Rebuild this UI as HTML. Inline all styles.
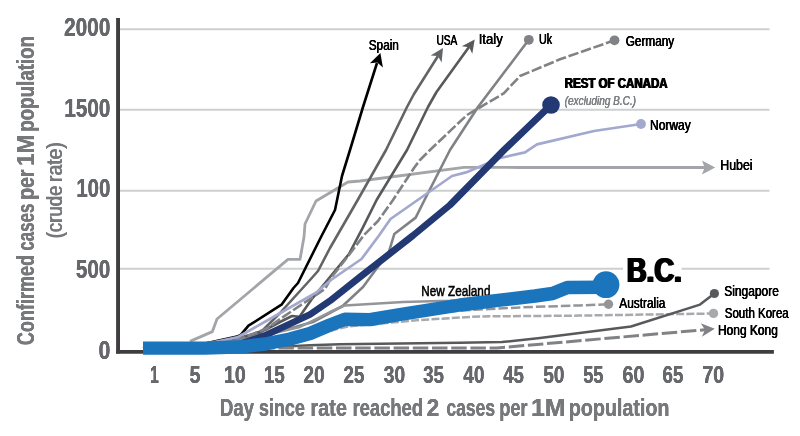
<!DOCTYPE html>
<html><head><meta charset="utf-8"><title>Confirmed cases per 1M population</title>
<style>
html,body{margin:0;padding:0;background:#fff;}
body{width:800px;height:436px;overflow:hidden;position:relative;font-family:"Liberation Sans",sans-serif;}
svg{display:block;position:absolute;left:0;top:0;font-family:"Liberation Sans",sans-serif;}
.t{position:absolute;left:0;top:0;line-height:1;white-space:nowrap;transform-origin:0 0;font-kerning:none;}
</style></head><body>
<svg width="800" height="436" viewBox="0 0 800 436">
<rect width="800" height="436" fill="#fff"/>
<line x1="119" y1="29.2" x2="769.5" y2="29.2" stroke="#ced0cf" stroke-width="2.1"/>
<line x1="119" y1="109.8" x2="769.5" y2="109.8" stroke="#ced0cf" stroke-width="2.1"/>
<line x1="119" y1="190.8" x2="769.5" y2="190.8" stroke="#ced0cf" stroke-width="2.1"/>
<line x1="119" y1="268.8" x2="769.5" y2="268.8" stroke="#ced0cf" stroke-width="2.1"/>
<path d="M190.0,341.4 L212.4,331.6 L217.0,319.0 L288.0,259.4 L300.0,259.4 L304.0,237.0 L305.0,224.0 L316.0,201.0 L348.0,182.0 L360.0,181.0 L464.0,167.3 L520.0,167.5 L706.0,167.5" fill="none" stroke="#a3a5a8" stroke-width="2.8" stroke-linejoin="round" />
<path d="M715.2,167.5 L702.0,174.6 L704.6,167.5 L702.0,160.4Z" fill="#a3a5a8"/>
<path d="M143.0,348.0 L205.0,343.6 L237.0,336.6 L241.0,334.7 L248.5,325.7 L281.5,304.7 L293.5,288.0 L298.0,283.0 L321.0,237.0 L335.0,210.0 L342.0,176.0 L350.0,150.0 L363.0,107.0 L377.0,63.0" fill="none" stroke="#000" stroke-width="2.6" stroke-linejoin="round" />
<path d="M380.4,52.9 L382.9,67.4 L377.3,62.4 L369.9,63.2Z" fill="#000"/>
<path d="M143.0,348.0 L205.0,344.0 L240.0,337.5 L260.5,332.5 L280.0,313.0 L310.0,280.0 L318.0,271.0 L330.0,248.0 L357.7,200.0 L386.0,150.0 L407.0,107.0 L414.0,94.0 L438.0,56.0" fill="none" stroke="#636466" stroke-width="2.6" stroke-linejoin="round" />
<path d="M443.0,48.0 L441.6,62.5 L437.9,56.0 L430.6,55.5Z" fill="#636466"/>
<path d="M143.0,348.0 L205.0,344.3 L240.0,338.5 L265.0,330.0 L280.0,322.0 L292.0,316.0 L299.5,316.7 L311.5,299.5 L330.0,277.0 L349.0,254.0 L362.8,227.7 L376.6,200.0 L407.0,150.0 L428.0,107.0 L436.5,92.0 L469.0,47.0" fill="none" stroke="#58595b" stroke-width="2.6" stroke-linejoin="round" />
<path d="M474.7,39.5 L472.3,53.8 L469.1,47.2 L461.8,46.2Z" fill="#58595b"/>
<path d="M143.0,348.0 L205.0,344.6 L240.0,339.0 L268.0,328.0 L281.5,318.0 L325.0,289.0 L331.0,278.0 L349.0,255.0 L364.0,235.0 L378.0,221.0 L393.0,200.0 L414.0,168.0 L420.0,160.0 L430.0,150.0 L467.0,115.0 L504.0,93.2 L520.0,76.0 L560.0,59.3 L614.5,40.3" fill="none" stroke="#808285" stroke-width="2.6" stroke-linejoin="round" stroke-dasharray="10.5 2.7" />
<circle cx="614.5" cy="40.3" r="4.9" fill="#808285"/>
<path d="M143.0,348.0 L205.0,345.0 L240.0,340.0 L284.5,330.0 L313.0,322.0 L342.6,306.0 L363.0,287.0 L389.0,251.7 L394.3,234.0 L415.7,217.6 L424.5,200.0 L450.0,150.0 L478.0,107.0 L528.8,39.8" fill="none" stroke="#808285" stroke-width="2.6" stroke-linejoin="round" />
<circle cx="528.8" cy="39.8" r="4.9" fill="#808285"/>
<path d="M143.0,348.0 L205.0,344.0 L238.0,337.0 L246.0,332.5 L283.0,311.5 L316.0,292.7 L331.0,280.0 L361.5,259.0 L379.0,235.5 L390.5,219.0 L452.0,176.0 L466.0,172.4 L500.0,158.0 L525.0,152.4 L537.0,144.4 L594.0,131.0 L641.0,124.0" fill="none" stroke="#a3a8cf" stroke-width="2.7" stroke-linejoin="round" />
<circle cx="641" cy="124" r="4.9" fill="#a3a8cf"/>
<path d="M143.0,348.0 L205.0,345.0 L240.0,341.0 L300.0,327.0 L330.0,312.0 L345.0,305.4 L403.0,302.0 L450.0,300.8 L490.0,298.0" fill="none" stroke="#939598" stroke-width="2.5" stroke-linejoin="round" />
<path d="M240.0,346.0 L300.0,337.0 L345.0,321.0 L370.0,321.0 L460.0,310.5 L490.0,309.0 L520.0,307.4 L580.0,305.4 L608.5,304.3" fill="none" stroke="#939598" stroke-width="2.5" stroke-linejoin="round" stroke-dasharray="9.5 3" />
<circle cx="608.5" cy="304.2" r="4.7" fill="#939598"/>
<path d="M240.0,347.0 L300.0,338.0 L348.0,326.4 L420.0,320.0 L480.0,316.4 L580.0,315.6 L713.5,313.5" fill="none" stroke="#a7a9ac" stroke-width="2.5" stroke-linejoin="round" stroke-dasharray="8 2.2" />
<circle cx="713.5" cy="313.4" r="4.7" fill="#a7a9ac"/>
<path d="M200.0,348.0 L290.0,346.3 L310.0,345.2 L340.0,344.2 L460.0,342.7 L502.0,342.1 L540.0,337.9 L631.0,326.5 L700.0,304.6 L714.4,293.5" fill="none" stroke="#58595b" stroke-width="2.5" stroke-linejoin="round" />
<circle cx="714.4" cy="293.5" r="4.6" fill="#58595b"/>
<path d="M240.0,348.0 L497.0,348.0 L705.0,329.7" fill="none" stroke="#808285" stroke-width="3" stroke-linejoin="round" stroke-dasharray="15.5 3.7" />
<path d="M714.8,328.8 L701.9,336.7 L705.0,329.7 L700.7,323.3Z" fill="#808285"/>
<line x1="118.05" y1="18" x2="118.05" y2="353.5" stroke="#403d41" stroke-width="3.9"/>
<line x1="116.1" y1="351.9" x2="773.9" y2="351.9" stroke="#403d41" stroke-width="3.7"/>
<path d="M240.0,344.0 L265.0,335.5 L310.0,314.5 L330.0,300.8 L360.0,277.0 L413.0,235.5 L450.0,205.0 L504.0,150.0 L551.0,105.0" fill="none" stroke="#223973" stroke-width="6.8" stroke-linejoin="round" />
<circle cx="551" cy="105" r="8.8" fill="#223973"/>
<text transform="translate(421.34,296) scale(0.7820,1)" font-size="15" fill="#000" stroke="#000" stroke-width="0.60" style="font-kerning:none">New Zealand</text>
<path d="M143.0,348.1 L205.0,348.1 L242.0,346.8 L265.0,344.0 L290.0,339.0 L310.0,333.5 L330.0,325.0 L345.0,319.3 L370.0,319.6 L400.0,314.5 L460.0,305.0 L500.0,300.2 L535.0,296.0 L552.5,293.5 L567.4,287.5 L606.0,287.2" fill="none" stroke="#1b75bc" stroke-width="13.4" stroke-linejoin="round" stroke-linecap="butt"/>
<circle cx="606" cy="284.7" r="13.4" fill="#1b75bc"/>
<rect x="623" y="262" width="58.6" height="14" fill="#fff"/>
</svg>
<div class="t" style="font-size:34.8px;font-weight:bold;color:#000;text-shadow:1.40px 0 0 #000,-1.40px 0 0 #000;transform:translate(626.97px,282px) scale(0.7861,1) translate(0,-29.10px)">B.C.</div>
<div class="t" style="font-size:15px;color:#000;text-shadow:0.34px 0 0 #000,-0.34px 0 0 #000;transform:translate(368.73px,50px) scale(0.7862,1) translate(0,-12.70px)">Spain</div>
<div class="t" style="font-size:15px;color:#000;text-shadow:0.40px 0 0 #000,-0.40px 0 0 #000;transform:translate(436.49px,45px) scale(0.6764,1) translate(0,-12.70px)">USA</div>
<div class="t" style="font-size:15px;color:#000;text-shadow:0.31px 0 0 #000,-0.31px 0 0 #000;transform:translate(478.66px,43.6px) scale(0.8760,1) translate(0,-12.70px)">Italy</div>
<div class="t" style="font-size:15px;color:#000;text-shadow:0.38px 0 0 #000,-0.38px 0 0 #000;transform:translate(539.05px,44px) scale(0.7129,1) translate(0,-12.70px)">Uk</div>
<div class="t" style="font-size:15px;color:#000;text-shadow:0.34px 0 0 #000,-0.34px 0 0 #000;transform:translate(625.68px,46px) scale(0.7875,1) translate(0,-12.70px)">Germany</div>
<div class="t" style="font-size:15.5px;font-weight:bold;color:#000;text-shadow:0.74px 0 0 #000,-0.74px 0 0 #000;transform:translate(564.78px,88px) scale(0.7413,1) translate(0,-12.95px)">REST OF CANADA</div>
<div class="t" style="font-size:13.5px;font-style:italic;color:#808285;text-shadow:0.20px 0 0 #808285,-0.20px 0 0 #808285;transform:translate(564.68px,105px) scale(0.7431,1) translate(0,-10.95px)">(excluding B.C.)</div>
<div class="t" style="font-size:15px;color:#000;text-shadow:0.34px 0 0 #000,-0.34px 0 0 #000;transform:translate(650.03px,129.5px) scale(0.8008,1) translate(0,-12.70px)">Norway</div>
<div class="t" style="font-size:15px;color:#000;text-shadow:0.33px 0 0 #000,-0.33px 0 0 #000;transform:translate(720.26px,169.5px) scale(0.8243,1) translate(0,-12.70px)">Hubei</div>
<div class="t" style="font-size:15px;color:#000;text-shadow:0.34px 0 0 #000,-0.34px 0 0 #000;transform:translate(619.25px,307.5px) scale(0.7914,1) translate(0,-12.70px)">Australia</div>
<div class="t" style="font-size:15px;color:#000;text-shadow:0.34px 0 0 #000,-0.34px 0 0 #000;transform:translate(724.23px,296px) scale(0.7989,1) translate(0,-12.70px)">Singapore</div>
<div class="t" style="font-size:15px;color:#000;text-shadow:0.35px 0 0 #000,-0.35px 0 0 #000;transform:translate(724.75px,317.5px) scale(0.7672,1) translate(0,-12.70px)">South Korea</div>
<div class="t" style="font-size:15px;color:#000;text-shadow:0.34px 0 0 #000,-0.34px 0 0 #000;transform:translate(717.99px,334.6px) scale(0.7969,1) translate(0,-12.70px)">Hong Kong</div>
<div class="t" style="font-size:26.4px;font-weight:bold;color:#67686b;text-shadow:0.15px 0 0 #67686b,-0.15px 0 0 #67686b;transform:translate(64.10px,36px) scale(0.7872,1) translate(0,-21.90px)">2000</div>
<div class="t" style="font-size:26.4px;font-weight:bold;color:#67686b;text-shadow:0.15px 0 0 #67686b,-0.15px 0 0 #67686b;transform:translate(64.32px,117px) scale(0.7834,1) translate(0,-21.90px)">1500</div>
<div class="t" style="font-size:26.4px;font-weight:bold;color:#67686b;text-shadow:0.16px 0 0 #67686b,-0.16px 0 0 #67686b;transform:translate(76.44px,197px) scale(0.7690,1) translate(0,-21.90px)">100</div>
<div class="t" style="font-size:26.4px;font-weight:bold;color:#67686b;text-shadow:0.15px 0 0 #67686b,-0.15px 0 0 #67686b;transform:translate(75.99px,278px) scale(0.7796,1) translate(0,-21.90px)">500</div>
<div class="t" style="font-size:26.4px;font-weight:bold;color:#67686b;text-shadow:0.15px 0 0 #67686b,-0.15px 0 0 #67686b;transform:translate(98.58px,359px) scale(0.8012,1) translate(0,-21.90px)">0</div>
<div class="t" style="font-size:24.5px;font-weight:bold;color:#67686b;text-shadow:0.19px 0 0 #67686b,-0.19px 0 0 #67686b;transform:translate(150.15px,383px) scale(0.6280,1) translate(0,-20.45px)">1</div>
<div class="t" style="font-size:24.5px;font-weight:bold;color:#67686b;text-shadow:0.15px 0 0 #67686b,-0.15px 0 0 #67686b;transform:translate(189.52px,383px) scale(0.8006,1) translate(0,-20.45px)">5</div>
<div class="t" style="font-size:24.5px;font-weight:bold;color:#67686b;text-shadow:0.15px 0 0 #67686b,-0.15px 0 0 #67686b;transform:translate(223.89px,383px) scale(0.7999,1) translate(0,-20.45px)">10</div>
<div class="t" style="font-size:24.5px;font-weight:bold;color:#67686b;text-shadow:0.16px 0 0 #67686b,-0.16px 0 0 #67686b;transform:translate(263.94px,383px) scale(0.7656,1) translate(0,-20.45px)">15</div>
<div class="t" style="font-size:24.5px;font-weight:bold;color:#67686b;text-shadow:0.15px 0 0 #67686b,-0.15px 0 0 #67686b;transform:translate(303.46px,383px) scale(0.7780,1) translate(0,-20.45px)">20</div>
<div class="t" style="font-size:24.5px;font-weight:bold;color:#67686b;text-shadow:0.16px 0 0 #67686b,-0.16px 0 0 #67686b;transform:translate(343.47px,383px) scale(0.7683,1) translate(0,-20.45px)">25</div>
<div class="t" style="font-size:24.5px;font-weight:bold;color:#67686b;text-shadow:0.15px 0 0 #67686b,-0.15px 0 0 #67686b;transform:translate(383.68px,383px) scale(0.7888,1) translate(0,-20.45px)">30</div>
<div class="t" style="font-size:24.5px;font-weight:bold;color:#67686b;text-shadow:0.16px 0 0 #67686b,-0.16px 0 0 #67686b;transform:translate(423.19px,383px) scale(0.7598,1) translate(0,-20.45px)">35</div>
<div class="t" style="font-size:24.5px;font-weight:bold;color:#67686b;text-shadow:0.15px 0 0 #67686b,-0.15px 0 0 #67686b;transform:translate(463.33px,383px) scale(0.7752,1) translate(0,-20.45px)">40</div>
<div class="t" style="font-size:24.5px;font-weight:bold;color:#67686b;text-shadow:0.16px 0 0 #67686b,-0.16px 0 0 #67686b;transform:translate(503.34px,383px) scale(0.7542,1) translate(0,-20.45px)">45</div>
<div class="t" style="font-size:24.5px;font-weight:bold;color:#67686b;text-shadow:0.15px 0 0 #67686b,-0.15px 0 0 #67686b;transform:translate(543.29px,383px) scale(0.7751,1) translate(0,-20.45px)">50</div>
<div class="t" style="font-size:24.5px;font-weight:bold;color:#67686b;text-shadow:0.16px 0 0 #67686b,-0.16px 0 0 #67686b;transform:translate(583.32px,383px) scale(0.7364,1) translate(0,-20.45px)">55</div>
<div class="t" style="font-size:24.5px;font-weight:bold;color:#67686b;text-shadow:0.15px 0 0 #67686b,-0.15px 0 0 #67686b;transform:translate(622.39px,383px) scale(0.8091,1) translate(0,-20.45px)">60</div>
<div class="t" style="font-size:24.5px;font-weight:bold;color:#67686b;text-shadow:0.16px 0 0 #67686b,-0.16px 0 0 #67686b;transform:translate(662.43px,383px) scale(0.7697,1) translate(0,-20.45px)">65</div>
<div class="t" style="font-size:24.5px;font-weight:bold;color:#67686b;text-shadow:0.15px 0 0 #67686b,-0.15px 0 0 #67686b;transform:translate(702.27px,383px) scale(0.8042,1) translate(0,-20.45px)">70</div>
<div class="t" style="font-size:24.6px;font-weight:bold;color:#77787b;text-shadow:0.16px 0 0 #77787b,-0.16px 0 0 #77787b;transform:translate(219.88px,416px) scale(0.7557,1) translate(0,-20.50px)">Day</div>
<div class="t" style="font-size:24.6px;font-weight:bold;color:#77787b;text-shadow:0.16px 0 0 #77787b,-0.16px 0 0 #77787b;transform:translate(258.89px,416px) scale(0.7314,1) translate(0,-20.50px)">since</div>
<div class="t" style="font-size:24.6px;font-weight:bold;color:#77787b;text-shadow:0.15px 0 0 #77787b,-0.15px 0 0 #77787b;transform:translate(310.41px,416px) scale(0.8100,1) translate(0,-20.50px)">rate</div>
<div class="t" style="font-size:24.6px;font-weight:bold;color:#77787b;text-shadow:0.16px 0 0 #77787b,-0.16px 0 0 #77787b;transform:translate(352.51px,416px) scale(0.7481,1) translate(0,-20.50px)">reached</div>
<div class="t" style="font-size:24.6px;font-weight:bold;color:#77787b;text-shadow:0.13px 0 0 #77787b,-0.13px 0 0 #77787b;transform:translate(426.74px,416px) scale(0.9170,1) translate(0,-20.50px)">2</div>
<div class="t" style="font-size:24.6px;font-weight:bold;color:#77787b;text-shadow:0.17px 0 0 #77787b,-0.17px 0 0 #77787b;transform:translate(446.44px,416px) scale(0.7098,1) translate(0,-20.50px)">cases</div>
<div class="t" style="font-size:24.6px;font-weight:bold;color:#77787b;text-shadow:0.16px 0 0 #77787b,-0.16px 0 0 #77787b;transform:translate(499.32px,416px) scale(0.7374,1) translate(0,-20.50px)">per</div>
<div class="t" style="font-size:24.6px;font-weight:bold;color:#77787b;text-shadow:0.12px 0 0 #77787b,-0.12px 0 0 #77787b;transform:translate(531.06px,416px) scale(1.0091,1) translate(0,-20.50px)">1M</div>
<div class="t" style="font-size:24.6px;font-weight:bold;color:#77787b;text-shadow:0.15px 0 0 #77787b,-0.15px 0 0 #77787b;transform:translate(568.82px,416px) scale(0.8009,1) translate(0,-20.50px)">population</div>
<div class="t" style="font-size:24.4px;font-weight:bold;color:#77787b;text-shadow:0.16px 0 0 #77787b,-0.16px 0 0 #77787b;transform:translate(34.7px,344.5px) rotate(-90deg) translate(-0.62px,0) scale(0.7393,1) translate(0,-20.40px)">Confirmed</div>
<div class="t" style="font-size:24.4px;font-weight:bold;color:#77787b;text-shadow:0.17px 0 0 #77787b,-0.17px 0 0 #77787b;transform:translate(34.7px,344.5px) rotate(-90deg) translate(93.76px,0) scale(0.6944,1) translate(0,-20.40px)">cases</div>
<div class="t" style="font-size:24.4px;font-weight:bold;color:#77787b;text-shadow:0.15px 0 0 #77787b,-0.15px 0 0 #77787b;transform:translate(34.7px,344.5px) rotate(-90deg) translate(144.63px,0) scale(0.8018,1) translate(0,-20.40px)">per</div>
<div class="t" style="font-size:24.4px;font-weight:bold;color:#77787b;text-shadow:0.13px 0 0 #77787b,-0.13px 0 0 #77787b;transform:translate(34.7px,344.5px) rotate(-90deg) translate(178.71px,0) scale(0.9197,1) translate(0,-20.40px)">1M</div>
<div class="t" style="font-size:24.4px;font-weight:bold;color:#77787b;text-shadow:0.16px 0 0 #77787b,-0.16px 0 0 #77787b;transform:translate(34.7px,344.5px) rotate(-90deg) translate(212.78px,0) scale(0.7680,1) translate(0,-20.40px)">population</div>
<div class="t" style="font-size:22px;color:#77787b;text-shadow:0.47px 0 0 #77787b,-0.47px 0 0 #77787b;transform:translate(62.3px,237.5px) rotate(-90deg) translate(-0.75px,0) scale(0.8448,1) translate(0,-18.20px)">(crude</div>
<div class="t" style="font-size:22px;color:#77787b;text-shadow:0.46px 0 0 #77787b,-0.46px 0 0 #77787b;transform:translate(62.3px,237.5px) rotate(-90deg) translate(55.62px,0) scale(0.8771,1) translate(0,-18.20px)">rate)</div>
</body></html>
